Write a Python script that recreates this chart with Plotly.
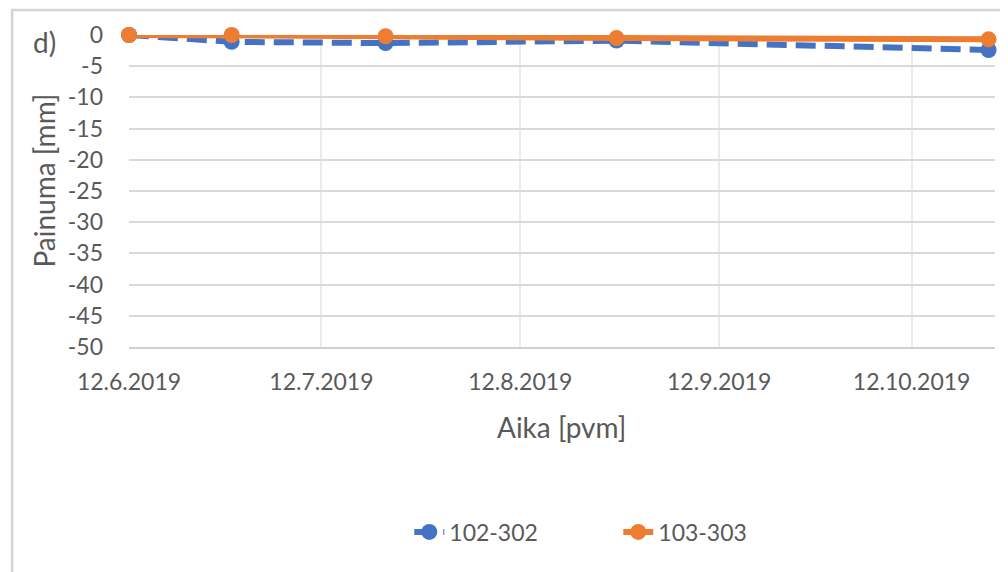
import plotly.graph_objects as go

# measurement dates and settlements (mm)
dates = ['2019-06-12', '2019-06-28', '2019-07-22', '2019-08-27', '2019-10-24']
s_102_302 = [0.0, -1.1, -1.3, -0.9, -2.4]
s_103_303 = [0.0, 0.0, -0.2, -0.5, -0.7]

tick_dates = ['2019-06-12', '2019-07-12', '2019-08-12', '2019-09-12', '2019-10-12']
tick_labels = ['12.6.2019', '12.7.2019', '12.8.2019', '12.9.2019', '12.10.2019']
y_ticks = [0, -5, -10, -15, -20, -25, -30, -35, -40, -45, -50]
y_labels = ['0', '-5', '-10', '-15', '-20', '-25', '-30', '-35', '-40', '-45', '-50']

font = 'Lato, Carlito, Calibri, sans-serif'
gray = '#595959'

fig = go.Figure()
fig.add_trace(go.Scatter(x=dates, y=s_102_302, name='102-302', mode='lines+markers',
                         line={'color': '#4472C4', 'width': 6, 'dash': '20px,9px'},
                         marker={'size': 16, 'color': '#4472C4'}, cliponaxis=False))
fig.add_trace(go.Scatter(x=dates, y=s_103_303, name='103-303', mode='lines+markers',
                         line={'color': '#ED7D31', 'width': 6},
                         marker={'size': 16, 'color': '#ED7D31'}, cliponaxis=False))

fig.update_xaxes(range=['2019-06-12', '2019-10-25'], tickvals=tick_dates, ticktext=tick_labels,
                 showgrid=True, gridcolor='#ebebeb', gridwidth=1.5, zeroline=False,
                 showline=True, linecolor='#cfcfcf', linewidth=2,
                 tickfont={'size': 23, 'color': gray, 'family': font}, ticklabelstandoff=13)
fig.update_yaxes(range=[-50, 0], tickvals=y_ticks, ticktext=y_labels, showgrid=True,
                 gridcolor='#d9d9d9', gridwidth=1.5, zeroline=False, showline=False,
                 ticklabelstandoff=25, tickfont={'size': 23, 'color': gray, 'family': font})

fig.update_layout(
    width=1000, height=564,
    margin={'l': 121, 'r': 13, 't': 27, 'b': 225},
    paper_bgcolor='white', plot_bgcolor='white',
    font={'family': font, 'color': gray},
    legend={'orientation': 'h', 'x': 0.565, 'xanchor': 'center', 'y': -0.593, 'yanchor': 'middle',
            'font': {'size': 23, 'color': gray}, 'entrywidth': 164},
    shapes=[{'type': 'rect', 'xref': 'paper', 'yref': 'paper',
             'x0': -0.135, 'x1': 1.2, 'y0': -1.0, 'y1': 1.080,
             'line': {'color': '#d4d4d0', 'width': 2.5}, 'layer': 'below'}],
    annotations=[
        {'text': 'd)', 'xref': 'paper', 'yref': 'paper', 'x': -0.097, 'y': 0.978,
         'showarrow': False, 'font': {'size': 28, 'color': gray}, 'xanchor': 'center', 'yanchor': 'middle'},
        {'text': 'Painuma [mm]', 'xref': 'paper', 'yref': 'paper', 'x': -0.0987, 'y': 0.532,
         'textangle': -90, 'showarrow': False, 'font': {'size': 28, 'color': gray},
         'xanchor': 'center', 'yanchor': 'middle'},
        {'text': 'Aika [pvm]', 'xref': 'paper', 'yref': 'paper', 'x': 0.4994, 'y': -0.256,
         'showarrow': False, 'font': {'size': 28, 'color': gray},
         'xanchor': 'center', 'yanchor': 'middle'},
    ],
)

fig.write_html('out.html')
